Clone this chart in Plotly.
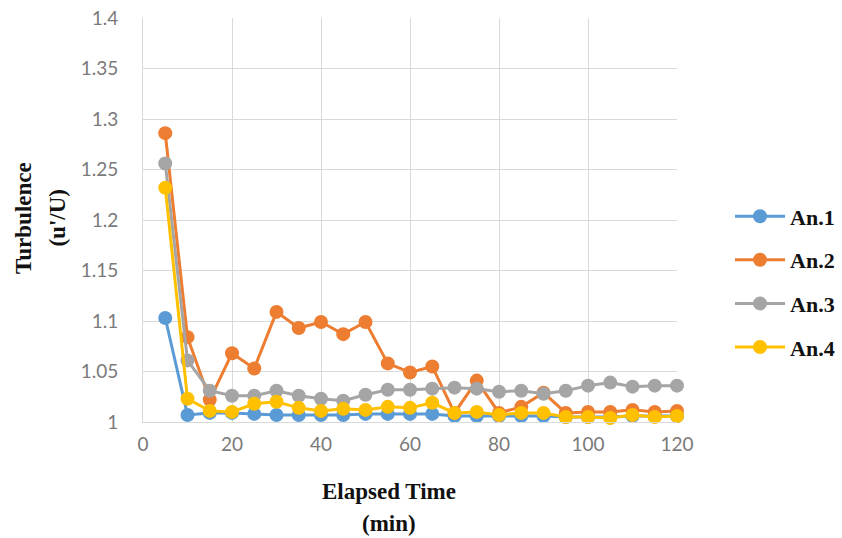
import plotly.graph_objects as go

time_min = [5, 10, 15, 20, 25, 30, 35, 40, 45, 50, 55, 60, 65, 70, 75, 80, 85, 90, 95, 100, 105, 110, 115, 120]

an1 = [1.103, 1.007, 1.009, 1.009, 1.008, 1.007, 1.007, 1.007, 1.007, 1.008, 1.008, 1.008, 1.008,
       1.006, 1.006, 1.006, 1.006, 1.006, 1.005, 1.005, 1.005, 1.006, 1.006, 1.006]
an2 = [1.286, 1.084, 1.022, 1.068, 1.053, 1.109, 1.093, 1.099, 1.087, 1.099, 1.058, 1.049, 1.055,
       1.009, 1.041, 1.009, 1.015, 1.029, 1.009, 1.010, 1.010, 1.012, 1.010, 1.011]
an3 = [1.256, 1.061, 1.031, 1.026, 1.026, 1.031, 1.026, 1.023, 1.021, 1.027, 1.032, 1.032, 1.033,
       1.034, 1.033, 1.030, 1.031, 1.028, 1.031, 1.036, 1.039, 1.035, 1.036, 1.036]
an4 = [1.232, 1.023, 1.011, 1.010, 1.018, 1.020, 1.014, 1.011, 1.013, 1.012, 1.015, 1.014, 1.019,
       1.009, 1.010, 1.007, 1.009, 1.009, 1.005, 1.005, 1.004, 1.007, 1.005, 1.006]

series_names = ["An.1", "An.2", "An.3", "An.4"]
series_values = [an1, an2, an3, an4]
series_colors = ["#5B9BD5", "#ED7D31", "#A5A5A5", "#FFC000"]

x_ticks = [0, 20, 40, 60, 80, 100, 120]
y_ticks = [1, 1.05, 1.1, 1.15, 1.2, 1.25, 1.3, 1.35, 1.4]
y_tick_text = ["1", "1.05", "1.1", "1.15", "1.2", "1.25", "1.3", "1.35", "1.4"]

fig = go.Figure()
for name, vals, col in zip(series_names, series_values, series_colors):
    fig.add_trace(go.Scatter(
        x=time_min, y=vals, name=name, mode="lines+markers",
        line=dict(color=col, width=3),
        marker=dict(color=col, size=14),
        legendgroup=name,
        cliponaxis=False,
    ))

tick_font = dict(family="Lato, 'Liberation Sans', sans-serif", size=19, color="#7a7a7a")
serif = "'Liberation Serif', 'DejaVu Serif', serif"
title_font = dict(family=serif, size=23, color="#111111")

fig.update_layout(
    width=842, height=538,
    margin=dict(l=143, r=165, t=18, b=116, autoexpand=False),
    paper_bgcolor="white", plot_bgcolor="white",
    showlegend=True,
    legend=dict(
        xref="container", yref="container",
        x=0.867, xanchor="left", y=0.476, yanchor="middle",
        font=dict(family=serif, size=22, color="#111111", weight="bold"),
        tracegroupgap=12, itemwidth=50, bgcolor="rgba(0,0,0,0)",
    ),
    xaxis=dict(
        range=[0, 120], tickvals=x_ticks, showgrid=True, gridcolor="#d9d9d9", gridwidth=1,
        zeroline=False, showline=True, linecolor="#d9d9d9", linewidth=1,
        tickfont=tick_font, ticks="", ticklabelstandoff=5,
    ),
    yaxis=dict(
        range=[1, 1.4], tickvals=y_ticks, ticktext=y_tick_text, showgrid=True,
        gridcolor="#d9d9d9", gridwidth=1, zeroline=False, showline=True,
        linecolor="#d9d9d9", linewidth=1, tickfont=tick_font, ticks="",
        ticklabelstandoff=20,
    ),
    annotations=[
        dict(text="<b>Elapsed Time</b>", xref="paper", yref="paper", x=0.461, y=-0.173,
             xanchor="center", yanchor="middle", showarrow=False, font=title_font),
        dict(text="<b>(min)</b>", xref="paper", yref="paper", x=0.461, y=-0.25,
             xanchor="center", yanchor="middle", showarrow=False, font=title_font),
        dict(text="<b>Turbulence</b>", xref="paper", yref="paper", x=-0.223, y=0.505,
             xanchor="center", yanchor="middle", showarrow=False, textangle=-90,
             font=title_font),
        dict(text="<b>(u'/U)</b>", xref="paper", yref="paper", x=-0.16, y=0.505,
             xanchor="center", yanchor="middle", showarrow=False, textangle=-90,
             font=title_font),
    ],
)

fig.write_html("out.html")
